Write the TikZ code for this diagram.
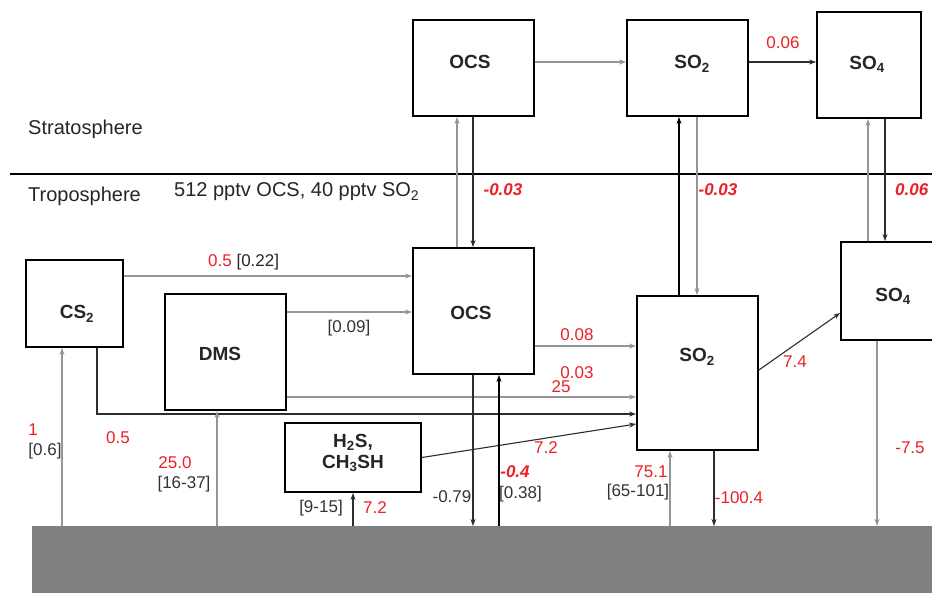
\documentclass[tikz,border=0pt]{standalone}
\usepackage{fontspec}
\setmainfont{Liberation Sans}
\usetikzlibrary{arrows.meta}
\definecolor{labred}{RGB}{236,32,38}
\definecolor{grnd}{RGB}{128,128,128}
\definecolor{lgray}{RGB}{150,150,150}
\definecolor{dgray}{RGB}{45,45,45}
\begin{document}
\begin{tikzpicture}[x=1pt,y=-1pt,
  box/.style={draw=black,line width=1.8pt,inner sep=0pt,fill=white},
  boxtxt/.style={font=\fontsize{19}{21}\selectfont\bfseries,inner sep=0pt,align=center,text=black!85},
  lab/.style={font=\fontsize{20}{24}\selectfont,inner sep=0pt,text=black!85},
  num/.style={font=\fontsize{17}{20}\selectfont,inner sep=0pt,text=labred},
  bnum/.style={font=\fontsize{17}{20}\selectfont\bfseries\itshape,inner sep=0pt,text=labred},
  blk/.style={font=\fontsize{17}{20}\selectfont,inner sep=0pt,text=black!80},
  arrg/.style={draw=lgray,line width=1.5pt,-{Stealth[length=7pt,width=5pt]}},
  arrd/.style={draw=dgray,line width=1.1pt,-{Stealth[length=7pt,width=5pt]}},
  arrb/.style={draw=black,line width=2pt,-{Stealth[length=7pt,width=5pt]}}]
\useasboundingbox (0,0) rectangle (932,592);
\clip (0,0) rectangle (932,592);
\fill[white] (0,0) rectangle (932,592);

% ground
\node[fill=grnd,draw=none,inner sep=0pt,minimum width=910pt,minimum height=70pt,anchor=north west] (ground) at (32,526) {};

% separator
\draw[line width=1.5pt,black] (10,174) -- (940,174);
\node[lab,anchor=west] (strat) at (28,129) {Stratosphere};
\node[lab,anchor=west] (trop) at (28,196) {Troposphere};
\node[lab,anchor=west] (conc) at (174,192) {512 pptv OCS, 40 pptv SO\textsubscript{2}};

% boxes
\node[box,minimum width=121pt,minimum height=96pt] (sOCS) at (473.5,68) {};
\node[box,minimum width=121pt,minimum height=96pt] (sSO2) at (687.5,68) {};
\node[box,minimum width=104pt,minimum height=106pt] (sSO4) at (869,65) {};
\node[box,minimum width=97pt,minimum height=87pt] (CS2) at (74.5,303.5) {};
\node[box,minimum width=121pt,minimum height=116pt] (DMS) at (225.5,352) {};
\node[box,minimum width=121pt,minimum height=126pt] (tOCS) at (473.5,311) {};
\node[box,minimum width=121pt,minimum height=154pt] (tSO2) at (697.5,373) {};
\node[box,minimum width=104pt,minimum height=98pt] (tSO4) at (893,291) {};
\node[box,minimum width=136pt,minimum height=69pt] (H2S) at (353,457.5) {};

% box texts
\node[boxtxt] (sOCSt) at (470,62) {OCS};
\node[boxtxt] (sSO2t) at (692,64) {SO\textsubscript{2}};
\node[boxtxt] (sSO4t) at (867,64) {SO\textsubscript{4}};
\node[boxtxt] (CS2t) at (77,314) {CS\textsubscript{2}};
\node[boxtxt] (DMSt) at (220,354) {DMS};
\node[boxtxt] (tOCSt) at (471,313) {OCS};
\node[boxtxt] (tSO2t) at (697,357) {SO\textsubscript{2}};
\node[boxtxt] (tSO4t) at (893,296) {SO\textsubscript{4}};
\node[boxtxt] (H2St) at (353,453) {H\textsubscript{2}S,\\CH\textsubscript{3}SH};

% stratospheric arrows
\draw[arrg] ([yshift=6pt]sOCS.east) -- ([yshift=6pt]sSO2.west);
\draw[arrd] ([yshift=6pt]sSO2.east) -- ([yshift=3pt]sSO4.west);
\node[num] (l006a) at (783,43) {0.06};

% exchange arrows
\draw[arrg] ([xshift=-16.5pt]tOCS.north) -- ([xshift=-16.5pt]sOCS.south);
\draw[arrd] ([xshift=-0.5pt]sOCS.south) -- ([xshift=-0.5pt]tOCS.north);
\node[bnum] (l003a) at (503,190) {-0.03};
\draw[arrb] ([xshift=-18.5pt]tSO2.north) -- ([xshift=-8.5pt]sSO2.south);
\draw[arrg] ([xshift=9.5pt]sSO2.south) -- ([xshift=-0.5pt]tSO2.north);
\node[bnum] (l003b) at (718,190) {-0.03};
\draw[arrg] ([xshift=-25pt]tSO4.north) -- ([xshift=-1pt]sSO4.south);
\draw[arrd] ([xshift=16pt]sSO4.south) -- ([xshift=-8pt]tSO4.north);
\node[bnum,anchor=west] (l006b) at (895,190) {0.06};

% tropospheric arrows
\draw[arrg] ([yshift=27.5pt]CS2.east) -- ([yshift=35pt]tOCS.west);
\node[lab,font=\fontsize{17}{20}\selectfont,anchor=west] (l05a) at (208,262) {{\color{labred}0.5} [0.22]};
\draw[arrg] ([yshift=40pt]DMS.east) -- ([yshift=-1pt]tOCS.west);
\node[blk] (l009) at (349,328) {[0.09]};
\draw[arrg] ([yshift=-35pt]tOCS.east) -- ([yshift=27pt]tSO2.west);
\node[num] (l008) at (577,335) {0.08};
\draw[arrg] ([yshift=-45pt]DMS.east) -- ([yshift=-24pt]tSO2.west);
\node[num] (l003c) at (577,373) {0.03};
\node[num] (l25) at (561,387) {25};
\draw[arrd] ([xshift=22.5pt]CS2.south) |- ([yshift=-41pt]tSO2.west);
\node[num] (l05b) at (118,438) {0.5};
\draw[arrd] (H2S.east) -- ([yshift=-51pt]tSO2.west);
\node[num] (l72a) at (546,448) {7.2};
\draw[arrd] ([yshift=3pt]tSO2.east) -- ([yshift=-22pt]tSO4.west);
\node[num] (l74) at (795,362) {7.4};

% surface exchanges
\draw[arrd] ([xshift=-0.5pt]tOCS.south) -- ([xshift=-0.5pt]tOCS.south |- ground.north);
\node[blk] (l079) at (452,497) {-0.79};
\draw[arrb] ([xshift=25.5pt]tOCS.south |- ground.north) -- ([xshift=25.5pt]tOCS.south);
\node[bnum] (l04) at (515,472) {-0.4};
\node[blk,anchor=west] (l038) at (499,494) {[0.38]};
\draw[arrg] ([xshift=-27.5pt]tSO2.south |- ground.north) -- ([xshift=-27.5pt]tSO2.south);
\node[num] (l751) at (651,472) {75.1};
\node[blk] (l65) at (638,492) {[65-101]};
\draw[arrd] ([xshift=16.5pt]tSO2.south) -- ([xshift=16.5pt]tSO2.south |- ground.north);
\node[num] (l1004) at (739,498) {-100.4};
\draw[arrg] ([xshift=-16pt]tSO4.south) -- ([xshift=-16pt]tSO4.south |- ground.north);
\node[num] (l75) at (910,448) {-7.5};
\draw[arrg] ([xshift=-12.5pt]CS2.south |- ground.north) -- ([xshift=-12.5pt]CS2.south);
\node[num] (l1) at (33,430) {1};
\node[blk] (l06) at (45,451) {[0.6]};
\draw[arrg] ([xshift=-8.5pt]DMS.south |- ground.north) -- ([xshift=-8.5pt]DMS.south);
\node[num] (l250) at (175,463) {25.0};
\node[blk] (l1637) at (184,484) {[16-37]};
\draw[arrd] (H2S.south |- ground.north) -- (H2S.south);
\node[blk] (l915) at (321,508) {[9-15]};
\node[num] (l72b) at (375,508) {7.2};
\end{tikzpicture}
\end{document}
